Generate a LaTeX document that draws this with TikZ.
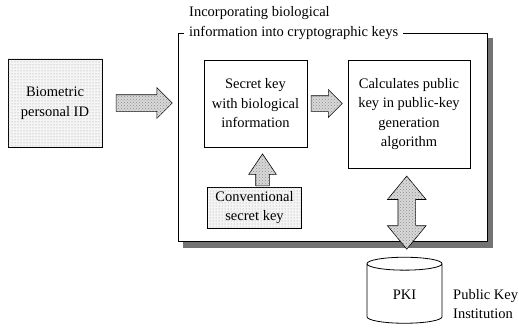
\documentclass[tikz,border=0pt]{standalone}
\usepackage{fontspec}
\setmainfont{Liberation Serif}
\usetikzlibrary{shapes.geometric, shapes.arrows, patterns, calc}

\begin{document}
\begin{tikzpicture}[x=1pt, y=-1pt, font=\fontsize{14.5}{19.5}\selectfont]
	\tikzstyle{boxStyle}=[shape = rectangle, draw, line width = 0.8pt, align = center, inner sep = 2pt]
	\tikzstyle{dottedStyle}=[boxStyle, fill = gray!8, postaction = {pattern = dots, pattern color = gray!80}]
	\tikzstyle{arrowStyle}=[draw, line width = 0.6pt, fill = gray!30, postaction = {pattern = crosshatch dots, pattern color = gray!90}, inner xsep = 0pt]
	\tikzstyle{shadowStyle}=[fill = black!55]
	\useasboundingbox (0,0) rectangle (519,329);
	\node[dottedStyle, minimum width = 94, minimum height = 88] (bio) at (55,103) {Biometric\\personal ID};
	\node[boxStyle, fill = white, minimum width = 309, minimum height = 208] (frame) at (332.5,137) {};
	% shadow of the frame
	\fill[shadowStyle] ($(frame.north east)+(0.4,5)$) rectangle ($(frame.south east)+(5.4,6.4)$);
	\fill[shadowStyle] ($(frame.south west)+(5,0.4)$) rectangle ($(frame.south east)+(5.4,6.4)$);
	\node[fill = white, align = left, inner xsep = 5pt, inner ysep = 1pt, anchor = west] (title) at (184,23) {Incorporating biological\\information into cryptographic keys};
	\node[boxStyle, minimum width = 103, minimum height = 87] (skey) at (255.5,103.5) {Secret key\\with biological\\information};
	\node[boxStyle, minimum width = 122, minimum height = 108] (calc) at (409,114) {Calculates public\\key in public-key\\generation\\algorithm};
	\node[dottedStyle, minimum width = 94, minimum height = 41] (conv) at (254.5,207.5) {Conventional\\secret key};
	\node[cylinder, draw, line width = 0.8pt, shape border rotate = 90, aspect = 0.43, minimum width = 75, minimum height = 66, fill = white] (pki) at (404.5,295) {PKI};
	\node[align = left, anchor = west, inner sep = 0pt] (pkiname) at (453,304) {Public Key\\Institution};
	% block arrows
	\node[arrowStyle, single arrow, inner ysep = 8pt, single arrow head extend = 7pt, minimum height = 56, anchor = tip] (a1) at ($(frame.west |- bio.east)+(-5,0)$) {};
	\node[arrowStyle, single arrow, inner ysep = 7.5pt, single arrow head extend = 6pt, minimum height = 31, anchor = tip] (a2) at ($(calc.west |- skey.east)+(-5,0)$) {};
	\node[arrowStyle, single arrow, rotate = 90, inner ysep = 6.5pt, single arrow head extend = 7pt, single arrow tip angle = 68, minimum height = 32, anchor = tip] (a3) at ($(skey.south)+(7,6)$) {};
	\node[arrowStyle, double arrow, rotate = 90, inner ysep = 8.5pt, double arrow head extend = 10.5pt, double arrow tip angle = 79, minimum height = 73] (a4) at ($(calc.south)!0.5!(pki.north)$) {};
\end{tikzpicture}
\end{document}
